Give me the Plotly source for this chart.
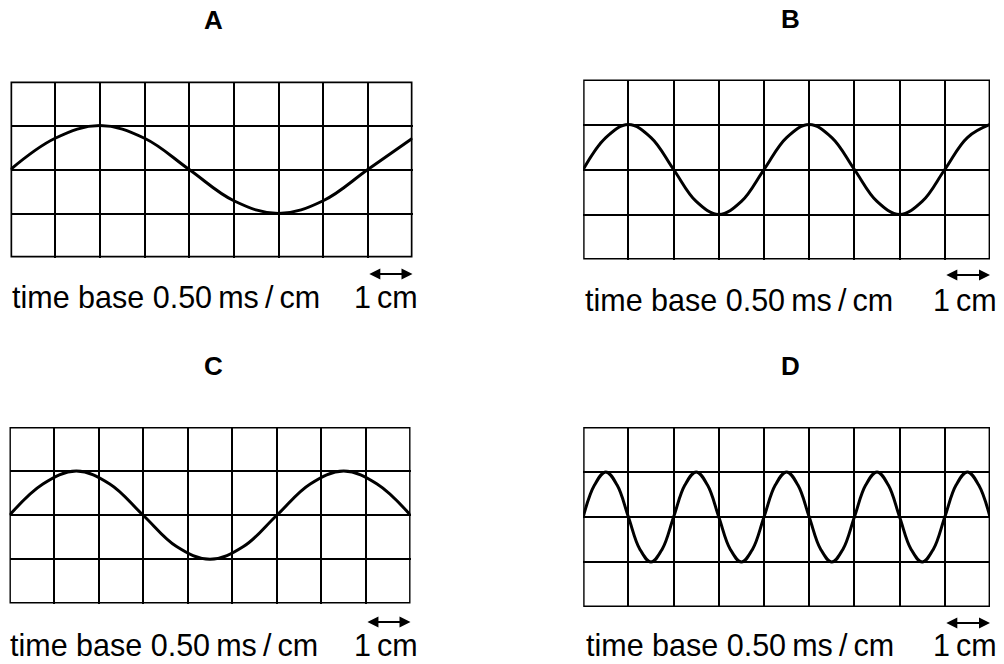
import plotly.graph_objects as go

# ---- data (grid units: 1 cm per square) ----
panel_names = ["A", "B", "C", "D"]

# trace A: period 8 cm, amplitude 1 cm
a_x = [0, 1, 2, 3, 4, 5, 6, 7, 8, 9]
a_y = [0, 0.71, 1, 0.71, 0, -0.71, -1, -0.71, 0, 0.71]

# trace B: period 4 cm
b_x = [0, 0.5, 1, 1.5, 2, 2.5, 3, 3.5, 4, 4.5, 5, 5.5, 6, 6.5, 7, 7.5, 8, 8.5, 9]
b_y = [0, 0.71, 1, 0.71, 0, -0.71, -1, -0.71, 0, 0.71, 1, 0.71, 0, -0.71, -1, -0.71, 0, 0.71, 1]

# trace C: period 6 cm
c_x = [0, 0.75, 1.5, 2.25, 3, 3.75, 4.5, 5.25, 6, 6.75, 7.5, 8.25, 9]
c_y = [0, 0.71, 1, 0.71, 0, -0.71, -1, -0.71, 0, 0.71, 1, 0.71, 0]

# trace D: period 2 cm
d_x = [0, 0.25, 0.5, 0.75, 1, 1.25, 1.5, 1.75, 2, 2.25, 2.5, 2.75, 3, 3.25, 3.5, 3.75,
       4, 4.25, 4.5, 4.75, 5, 5.25, 5.5, 5.75, 6, 6.25, 6.5, 6.75, 7, 7.25, 7.5, 7.75,
       8, 8.25, 8.5, 8.75, 9]
d_y = [0, 0.71, 1, 0.71, 0, -0.71, -1, -0.71, 0, 0.71, 1, 0.71, 0, -0.71, -1, -0.71,
       0, 0.71, 1, 0.71, 0, -0.71, -1, -0.71, 0, 0.71, 1, 0.71, 0, -0.71, -1, -0.71,
       0, 0.71, 1, 0.71, 0]

grid_cols = 9
grid_rows = 4
time_base_label = "time base 0.50\u2009ms\u2009/\u2009cm"
scale_label = "1\u2009cm"

# ---- layout (pixels) ----
W, H = 1004, 664
FONT = "Liberation Sans, Arial, sans-serif"

# (left, right, top, bottom) of each screen frame in pixels
frames = {
    "A": (10.5, 412.5, 81.5, 257.5),
    "B": (583.2, 990.0, 79.5, 259.5),
    "C": (9.5, 410.5, 427.0, 603.5),
    "D": (583.2, 990.0, 427.0, 607.0),
}
frame_width = {"A": 3.4, "B": 2.8, "C": 2.8, "D": 2.8}
title_pos = {"A": (213, 20), "B": (790, 19), "C": (213, 366), "D": (790, 366)}
label_y = {"A": 297, "B": 300, "C": 645, "D": 645}
label_x = {"A": 10, "B": 583, "C": 8, "D": 584}
scale_right = {"A": 420, "B": 999, "C": 420, "D": 999}
arrow_y = {"A": 274, "B": 275, "C": 622, "D": 623}

series = {"A": (a_x, a_y), "B": (b_x, b_y), "C": (c_x, c_y), "D": (d_x, d_y)}

fig = go.Figure()
annotations = []
shapes = []

for i, name in enumerate(panel_names):
    idx = "" if i == 0 else str(i + 1)
    xa, ya = "x" + idx, "y" + idx
    l, r, t, b = frames[name]
    fig.update_layout(**{
        "xaxis" + idx: dict(domain=[l / W, r / W], range=[0, grid_cols], anchor=ya,
                            showgrid=True, gridcolor="black", gridwidth=2,
                            dtick=1, tick0=0, showticklabels=False, zeroline=False,
                            showline=False, ticks="", fixedrange=True),
        "yaxis" + idx: dict(domain=[1 - b / H, 1 - t / H], range=[-grid_rows / 2, grid_rows / 2],
                            anchor=xa, showgrid=True, gridcolor="black", gridwidth=2,
                            dtick=1, tick0=0, showticklabels=False, zeroline=False,
                            showline=False, ticks="", fixedrange=True),
    })
    sx, sy = series[name]
    fig.add_trace(go.Scatter(x=sx, y=sy, xaxis=xa, yaxis=ya, mode="lines",
                             line=dict(color="black", width=3, shape="spline", smoothing=1.1),
                             hoverinfo="skip", showlegend=False))
    shapes.append(dict(type="rect", xref=xa, yref=ya, x0=0, x1=grid_cols,
                       y0=-grid_rows / 2, y1=grid_rows / 2,
                       line=dict(color="black", width=frame_width[name]), layer="above"))
    tx, ty = title_pos[name]
    annotations.append(dict(text="<b>%s</b>" % name, x=tx / W, y=1 - ty / H,
                            xref="paper", yref="paper", showarrow=False,
                            xanchor="center", yanchor="middle",
                            font=dict(family=FONT, size=26, color="black")))
    annotations.append(dict(text=time_base_label, x=label_x[name] / W, y=1 - label_y[name] / H,
                            xref="paper", yref="paper", showarrow=False,
                            xanchor="left", yanchor="middle",
                            font=dict(family=FONT, size=30.5, color="black")))
    annotations.append(dict(text=scale_label, x=scale_right[name] / W, y=1 - label_y[name] / H,
                            xref="paper", yref="paper", showarrow=False,
                            xanchor="right", yanchor="middle",
                            font=dict(family=FONT, size=30.5, color="black")))
    # 1 cm double arrow spanning the last grid square
    annotations.append(dict(text="", x=grid_cols, y=1 - arrow_y[name] / H,
                            xref=xa, yref="paper", ax=grid_cols - 1, ay=0,
                            axref=xa, ayref="pixel", showarrow=True,
                            arrowhead=2, startarrowhead=2, arrowside="end+start",
                            arrowsize=1.1, startarrowsize=1.1, arrowwidth=2,
                            arrowcolor="black", standoff=0, startstandoff=0))

fig.update_layout(width=W, height=H, margin=dict(l=0, r=0, t=0, b=0, pad=0),
                  paper_bgcolor="white", plot_bgcolor="white",
                  annotations=annotations, shapes=shapes, showlegend=False)

fig.write_html("out.html", config={"displayModeBar": False, "staticPlot": True},
               post_script="document.body.style.margin='0';document.body.style.overflow='hidden';")
